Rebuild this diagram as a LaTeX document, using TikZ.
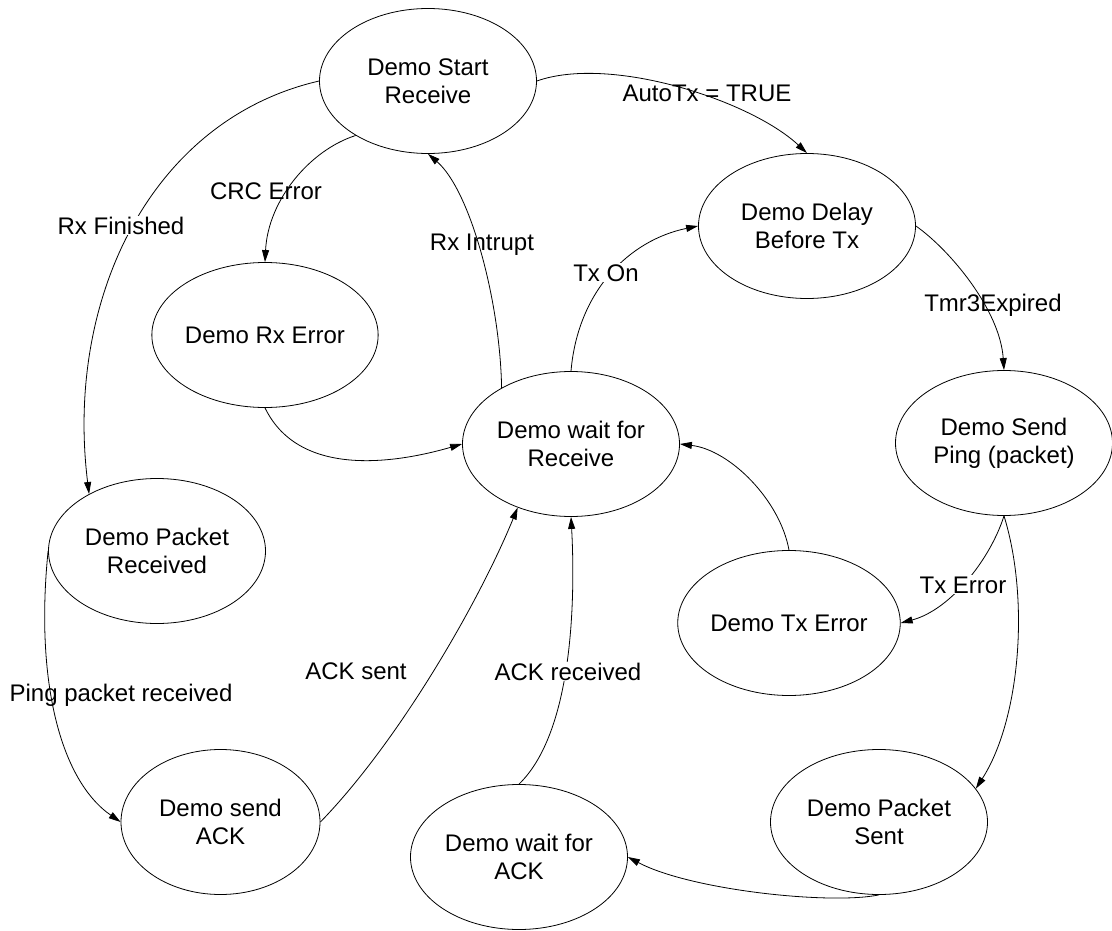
\documentclass[tikz,border=0pt]{standalone}
\usepackage{fontspec}
\setmainfont{Liberation Sans}
\usetikzlibrary{arrows.meta,shapes.geometric}
\begin{document}
\begin{tikzpicture}[x=1pt,y=-1pt,
  state/.style={draw, ellipse, minimum width=217pt, minimum height=145pt, inner sep=0pt,
    align=center, font=\fontsize{24}{28}\selectfont, line width=0.8pt},
  lbl/.style={font=\fontsize{24}{28}\selectfont, inner sep=1pt, anchor=base},
  lblw/.style={lbl, fill=white},
  trans/.style={-{Triangle[length=12pt,width=7pt]}, line width=0.8pt}]
\useasboundingbox (0,0) rectangle (1112,931);

\node[state] (S)  at (428,81)  {Demo Start\\Receive};
\node[state] (D)  at (807,226) {Demo Delay\\Before Tx};
\node[state] (RE) at (265,335) {Demo Rx Error};
\node[state] (W)  at (571,444) {Demo wait for\\Receive};
\node[state] (P)  at (1004,443) {Demo Send\\Ping (packet)};
\node[state] (PR) at (157,551) {Demo Packet\\Received};
\node[state] (TE) at (789,623) {Demo Tx Error};
\node[state, minimum width=199pt] (SA) at (220.5,822) {Demo send\\ACK};
\node[state] (WA) at (519,857) {Demo wait for\\ACK};
\node[state] (PS) at (879,822) {Demo Packet\\Sent};

\draw[trans] (S.east) .. controls (610,55) and (750,100) .. (D.north);
\draw[trans] (W.north) .. controls (578,290) and (630,240) .. (D.west);
\draw[trans] (D.east) .. controls (950,250) and (1000,310) .. (P.north);
\draw[trans] (S.217) .. controls (310,150) and (268,200) .. (RE.north);
\draw[trans] (S.west) .. controls (150,120) and (65,300) .. (PR.140);
\draw[trans] (W.141) .. controls (500,300) and (470,190) .. (S.south);
\draw[trans] (RE.south) .. controls (300,480) and (400,462) .. (W.west);
\draw[trans] (PR.west) .. controls (35,680) and (60,780) .. (SA.west);
\draw[trans] (SA.east) .. controls (400,740) and (480,600) .. (W.230);
\draw[trans] (WA.north) .. controls (575,730) and (575,590) .. (W.south);
\draw[trans] (TE.north) .. controls (780,500) and (730,450) .. (W.east);
\draw[trans] (P.south) .. controls (990,560) and (950,610) .. (TE.east);
\draw[trans] (P.south) .. controls (1030,600) and (1020,720) .. (PS.19);
\draw[trans] (PS.south) .. controls (830,905) and (690,890) .. (WA.east);

\node[lbl]  (l1)  at (707,102) {AutoTx = TRUE};
\node[lblw] (l2)  at (606,281) {Tx On};
\node[lbl]  (l3)  at (993,311) {Tmr3Expired};
\node[lbl]  (l4)  at (266,200) {CRC Error};
\node[lblw] (l5)  at (121,234) {Rx Finished};
\node[lbl]  (l6)  at (482,251) {Rx Intrupt};
\node[lbl]  (l7)  at (121,701) {Ping packet received};
\node[lbl]  (l8)  at (356,679) {ACK sent};
\node[lblw] (l9)  at (568,680) {ACK received};
\node[lblw] (l10) at (963,593) {Tx Error};
\end{tikzpicture}
\end{document}
